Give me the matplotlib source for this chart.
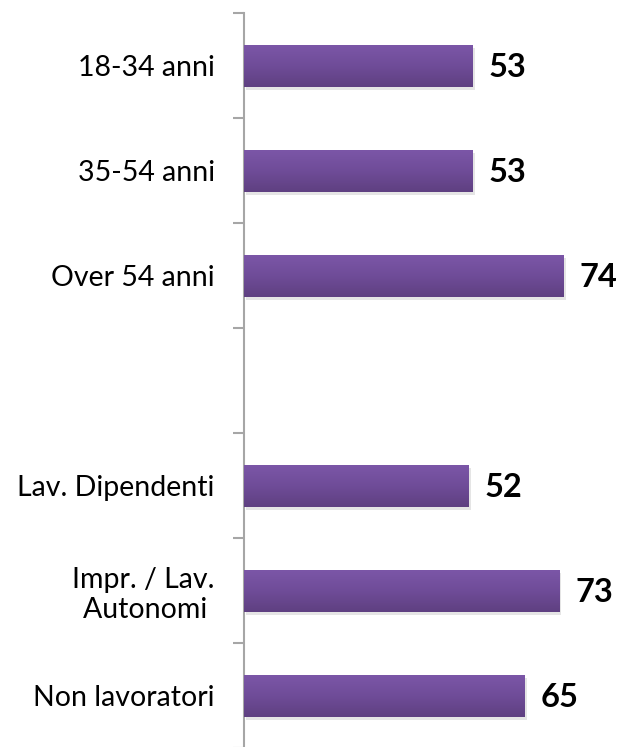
import numpy as np
import matplotlib
matplotlib.use("Agg")
import matplotlib.pyplot as plt
import matplotlib.patheffects as pe
from matplotlib.colors import LinearSegmentedColormap

categories = ["18-34 anni", "35-54 anni", "Over 54 anni", "",
              "Lav. Dipendenti", "Impr. / Lav.\nAutonomi ", "Non lavoratori"]
values = [53, 53, 74, None, 52, 73, 65]

plt.rcParams['font.family'] = ['Lato', 'DejaVu Sans']

fig = plt.figure(figsize=(6.19, 7.47), dpi=100)
W, H = 619, 747
ax = fig.add_axes([244 / W, -1 / H, (W - 244) / W, 735 / H])

n = len(categories)
xmax = (W - 244) / 4.32

cmap = LinearSegmentedColormap.from_list("purp", ["#5f4081", "#6f4c98", "#7b56a7"])
grad = np.linspace(0, 1, 64).reshape(-1, 1)

for i, (cat, v) in enumerate(zip(categories, values)):
    if v is None:
        continue
    bars = ax.barh(i, v, height=0.4, color="#6e4b97", zorder=2,
                   path_effects=[pe.SimplePatchShadow(offset=(1.5, -2.5), shadow_rgbFace="#aaaaaa", alpha=0.3),
                                 pe.Normal()])
    b = bars[0]
    x0, y0 = b.get_x(), b.get_y()
    w, h = b.get_width(), b.get_height()
    im = ax.imshow(grad, cmap=cmap, aspect="auto", extent=(x0, x0 + w, y0, y0 + h),
                   origin="upper", zorder=3, interpolation="bicubic")
    im.set_clip_path(b)
    ax.annotate(str(v), xy=(v, i), xytext=(11.5, -1.5), textcoords="offset points",
                ha="left", va="center", fontsize=23.5, fontweight="bold", color="black",
                annotation_clip=False, clip_on=False)

ax.set_ylim(n - 0.5, -0.5)
ax.set_xlim(0, xmax)

ax.set_yticks(np.arange(n))
ax.set_yticklabels(categories, fontsize=20.5, multialignment="right", linespacing=1.2)
ax.tick_params(axis="y", which="major", length=0, pad=21)
ax.set_yticks(np.arange(n + 1) - 0.5, minor=True)
ax.tick_params(axis="y", which="minor", length=8, width=1.5, color="#a6a6a6", direction="out")
ax.set_xticks([])
for s in ["top", "right", "bottom"]:
    ax.spines[s].set_visible(False)
ax.spines["left"].set_color("#a6a6a6")
ax.spines["left"].set_linewidth(1.5)
ax.set_facecolor("none")

fig.savefig("out.png", dpi=100)
